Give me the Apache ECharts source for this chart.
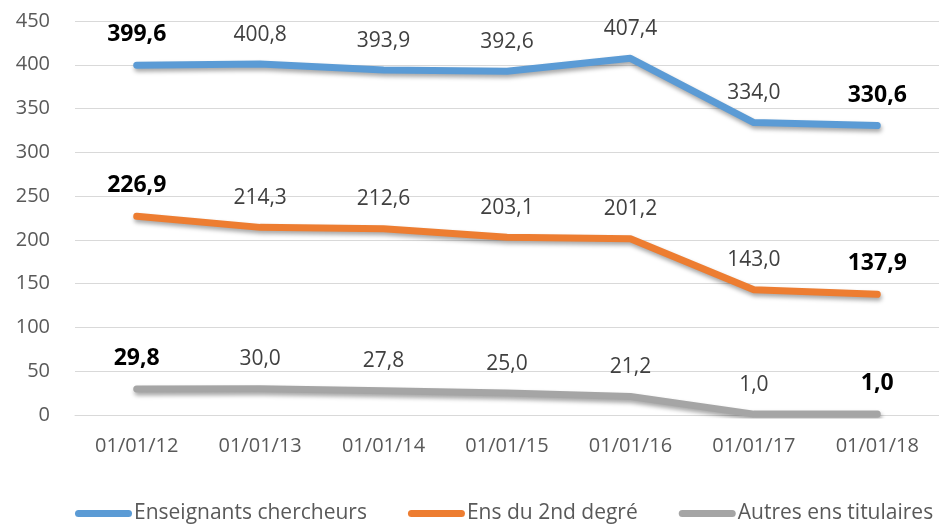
<!DOCTYPE html>
<html>
<head>
<meta charset="utf-8">
<script src="https://cdn.jsdelivr.net/npm/echarts@6/dist/echarts.min.js"></script>
<style>
html,body{margin:0;padding:0;background:#fff;}
#chart{width:939px;height:524px;}
</style>
</head>
<body>
<div id="chart"></div>
<script>
const CATEGORIES = ['01/01/12','01/01/13','01/01/14','01/01/15','01/01/16','01/01/17','01/01/18'];
const ENS_CHERCHEURS = [399.6, 400.8, 393.9, 392.6, 407.4, 334.0, 330.6];
const ENS_2ND_DEGRE = [226.9, 214.3, 212.6, 203.1, 201.2, 143.0, 137.9];
const AUTRES_TITULAIRES = [29.8, 30.0, 27.8, 25.0, 21.2, 1.0, 1.0];
const SERIES_NAMES = ['Enseignants chercheurs', 'Ens du 2nd degré', 'Autres ens titulaires'];
const COLORS = ['#5B9BD5', '#ED7D31', '#A5A5A5'];
const FONT = '"Open Sans", "DejaVu Sans", sans-serif';

/**
 * build the points of one line, first and last label are bold
 * @param {Array} values
 */
function buildPoints(values){
	let points = [];
	values.forEach(function(val, index){
		let point = {value: val};
		if(index == 0 || index == values.length - 1){
			point.label = {fontWeight: 'bold', color: '#000', fontSize: 23};
		}
		points.push(point);
	});
	return points;
}

function buildSeries(name, values, color){
	return {
		name: name,
		type: 'line',
		data: buildPoints(values),
		symbol: 'circle',
		symbolSize: 2,
		itemStyle: {color: color},
		lineStyle: {
			width: 7,
			color: color,
			cap: 'round',
			join: 'round',
			shadowColor: 'rgba(0,0,0,0.35)',
			shadowBlur: 4,
			shadowOffsetX: 1,
			shadowOffsetY: 3
		},
		label: {
			show: true,
			position: 'top',
			distance: 18,
			fontFamily: FONT,
			fontSize: 21,
			color: '#404040',
			formatter: function(p){
				return p.value.toFixed(1).replace('.', ',');
			}
		},
		animation: false
	};
}

// capsule shaped legend icon like excel
const LEGEND_ICON = 'path://M3.5,0 H53.5 A3.5,3.5 0 0 1 53.5,7 H3.5 A3.5,3.5 0 0 1 3.5,0 Z';

let myChart = echarts.init(document.getElementById('chart'));
let option = {
	backgroundColor: '#fff',
	animation: false,
	grid: {left: 75, top: 21, width: 871.5, bottom: 109, containLabel: false},
	legend: {
		left: 70,
		top: 498,
		width: 900,
		itemWidth: 57,
		itemHeight: 7,
		itemGap: 41,
		icon: LEGEND_ICON,
		textStyle: {fontFamily: FONT, fontSize: 21, color: '#595959', padding: [0, 0, 0, -3]},
		data: SERIES_NAMES
	},
	xAxis: {
		type: 'category',
		data: CATEGORIES,
		boundaryGap: true,
		axisLine: {show: true, lineStyle: {color: '#D9D9D9', width: 1}},
		axisTick: {show: false},
		axisLabel: {fontFamily: FONT, fontSize: 20, color: '#595959', margin: 21}
	},
	yAxis: {
		type: 'value',
		min: 0,
		max: 450,
		interval: 50,
		axisLine: {show: false},
		axisTick: {show: false},
		splitLine: {lineStyle: {color: '#D9D9D9', width: 1}},
		axisLabel: {fontFamily: FONT, fontSize: 20, color: '#595959', margin: 25}
	},
	series: [
		buildSeries(SERIES_NAMES[0], ENS_CHERCHEURS, COLORS[0]),
		buildSeries(SERIES_NAMES[1], ENS_2ND_DEGRE, COLORS[1]),
		buildSeries(SERIES_NAMES[2], AUTRES_TITULAIRES, COLORS[2])
	]
};
myChart.setOption(option);
</script>
</body>
</html>
